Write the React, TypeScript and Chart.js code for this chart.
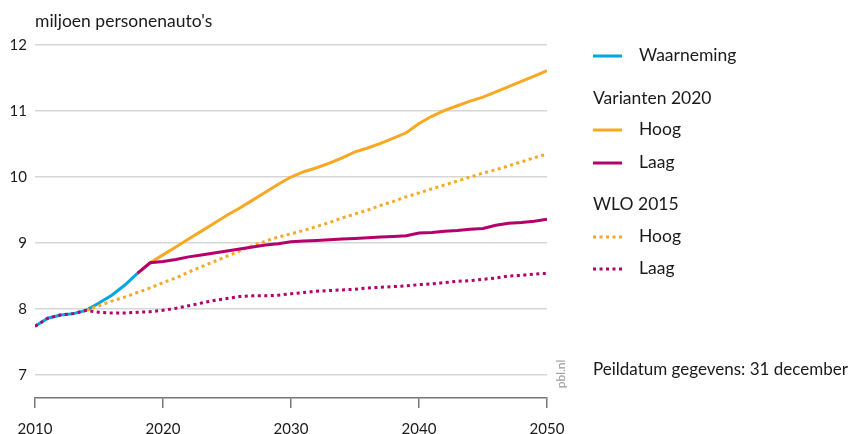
import React, { useEffect, useRef } from 'react';
import { Chart, registerables } from 'chart.js';
Chart.register(...registerables);

const YEARS = [2010, 2011, 2012, 2013, 2014, 2015, 2016, 2017, 2018, 2019, 2020, 2021, 2022, 2023, 2024, 2025, 2026, 2027, 2028, 2029, 2030, 2031, 2032, 2033, 2034, 2035, 2036, 2037, 2038, 2039, 2040, 2041, 2042, 2043, 2044, 2045, 2046, 2047, 2048, 2049, 2050];

const WAARNEMING = [7.74, 7.86, 7.91, 7.93, 7.98, 8.09, 8.21, 8.36, 8.54];
const WAARNEMING_START = 2010;

const VAR_HOOG = [8.54, 8.70, 8.82, 8.94, 9.06, 9.18, 9.30, 9.42, 9.53, 9.65, 9.77, 9.89, 10.00, 10.08, 10.14, 10.21, 10.29, 10.38, 10.44, 10.51, 10.59, 10.67, 10.81, 10.92, 11.01, 11.08, 11.15, 11.21, 11.29, 11.37, 11.45, 11.53, 11.61];
const VAR_LAAG = [8.54, 8.70, 8.72, 8.75, 8.79, 8.82, 8.85, 8.88, 8.91, 8.94, 8.97, 8.99, 9.02, 9.03, 9.04, 9.05, 9.06, 9.07, 9.08, 9.09, 9.10, 9.11, 9.15, 9.16, 9.18, 9.19, 9.21, 9.22, 9.27, 9.30, 9.31, 9.33, 9.36];
const VAR_START = 2018;

const WLO_HOOG = [7.98, 8.05, 8.12, 8.18, 8.25, 8.32, 8.40, 8.47, 8.56, 8.64, 8.72, 8.80, 8.88, 8.96, 9.03, 9.09, 9.14, 9.19, 9.25, 9.31, 9.38, 9.44, 9.50, 9.57, 9.63, 9.70, 9.76, 9.82, 9.88, 9.94, 10.00, 10.06, 10.11, 10.17, 10.23, 10.29, 10.35];
const WLO_HOOG_START = 2014;
const WLO_LAAG = [7.74, 7.86, 7.91, 7.93, 7.98, 7.95, 7.94, 7.94, 7.95, 7.96, 7.98, 8.01, 8.05, 8.09, 8.13, 8.16, 8.19, 8.20, 8.20, 8.21, 8.23, 8.25, 8.27, 8.28, 8.29, 8.30, 8.32, 8.33, 8.34, 8.35, 8.37, 8.38, 8.40, 8.42, 8.43, 8.45, 8.47, 8.50, 8.51, 8.53, 8.54];
const WLO_LAAG_START = 2010;

const Y_TICKS = [7, 8, 9, 10, 11, 12];
const X_TICKS = [2010, 2020, 2030, 2040, 2050];

const TITLE = "miljoen personenauto's";
const LEGEND_WAARNEMING = 'Waarneming';
const LEGEND_GROUP1 = 'Varianten 2020';
const LEGEND_GROUP2 = 'WLO 2015';
const LEGEND_HOOG = 'Hoog';
const LEGEND_LAAG = 'Laag';
const NOTE = 'Peildatum gegevens: 31 december';
const SOURCE = 'pbl.nl';

const BLUE = '#00a7e1';
const ORANGE = '#f8a823';
const MAGENTA = '#b3006c';
const FONT = 'Lato, "Open Sans", sans-serif';
const DOT = [3, 3.5];

function toPoints(values: number[], start: number) {
  return values.map((v, i) => ({ x: YEARS[YEARS.indexOf(start) + i], y: v }));
}

const overlay = {
  id: 'overlay',
  afterDraw(chart: any) {
    const ctx = chart.ctx as CanvasRenderingContext2D;
    ctx.save();
    ctx.fillStyle = '#1a1a1a';
    ctx.textBaseline = 'middle';
    ctx.textAlign = 'left';
    ctx.font = `17.5px ${FONT}`;
    ctx.fillText(TITLE, 35, 21);

    const sample = (y: number, color: string, dotted: boolean) => {
      ctx.beginPath();
      ctx.strokeStyle = color;
      ctx.lineWidth = 3;
      ctx.lineCap = 'butt';
      ctx.setLineDash(dotted ? DOT : []);
      ctx.moveTo(593, y);
      ctx.lineTo(622, y);
      ctx.stroke();
      ctx.setLineDash([]);
    };
    ctx.font = `17.5px ${FONT}`;
    sample(56, BLUE, false);
    ctx.fillText(LEGEND_WAARNEMING, 639, 55);
    ctx.fillText(LEGEND_GROUP1, 593, 98);
    sample(130, ORANGE, false);
    ctx.fillText(LEGEND_HOOG, 639, 129);
    sample(163, MAGENTA, false);
    ctx.fillText(LEGEND_LAAG, 639, 162);
    ctx.fillText(LEGEND_GROUP2, 593, 204);
    sample(237, ORANGE, true);
    ctx.fillText(LEGEND_HOOG, 639, 236);
    sample(269, MAGENTA, true);
    ctx.fillText(LEGEND_LAAG, 639, 268);
    ctx.font = `17px ${FONT}`;
    ctx.fillText(NOTE, 593, 370);

    ctx.translate(561, 374);
    ctx.rotate(-Math.PI / 2);
    ctx.textAlign = 'center';
    ctx.fillStyle = '#9a9a9a';
    ctx.font = `12px ${FONT}`;
    ctx.fillText(SOURCE, 0, 0);
    ctx.restore();
  },
};

export default function App() {
  const ref = useRef<HTMLCanvasElement>(null);
  useEffect(() => {
    const line = (data: any[], color: string, dotted: boolean) => ({
      data,
      borderColor: color,
      backgroundColor: color,
      borderWidth: 3,
      borderDash: dotted ? DOT : [],
      borderCapStyle: 'butt' as const,
      pointRadius: 0,
      tension: 0,
      fill: false,
    });
    const chart = new Chart(ref.current!, {
      type: 'line',
      data: {
        datasets: [
          line(toPoints(VAR_LAAG, VAR_START), MAGENTA, false),
          line(toPoints(WLO_LAAG, WLO_LAAG_START), MAGENTA, true),
          line(toPoints(VAR_HOOG, VAR_START), ORANGE, false),
          line(toPoints(WLO_HOOG, WLO_HOOG_START), ORANGE, true),
          line(toPoints(WAARNEMING, WAARNEMING_START), BLUE, false),
        ],
      },
      options: {
        animation: false,
        responsive: false,
        layout: { padding: { left: 0, top: 45, right: 305, bottom: 0 } },
        plugins: { legend: { display: false }, tooltip: { enabled: false } },
        scales: {
          x: {
            type: 'linear',
            min: 2010,
            max: 2050,
            afterBuildTicks: (s: any) => { s.ticks = X_TICKS.map((v) => ({ value: v })); },
            afterFit: (s: any) => { s.height = 36; },
            ticks: { color: '#1a1a1a', font: { family: FONT, size: 15 }, padding: 12, maxRotation: 0, callback: (v: any) => String(v) },
            grid: { drawOnChartArea: false, drawTicks: true, tickLength: 10, color: '#777', lineWidth: 1.5 },
            border: { display: true, color: '#777', width: 1.5 },
          },
          y: {
            min: 6.652,
            max: 12,
            afterBuildTicks: (s: any) => { s.ticks = Y_TICKS.map((v) => ({ value: v })); },
            afterFit: (s: any) => { s.width = 35; },
            ticks: { color: '#1a1a1a', font: { family: FONT, size: 15 }, padding: 8 },
            grid: { drawTicks: false, color: '#d6d6d6', lineWidth: 1.5 },
            border: { display: false },
          },
        },
      },
      plugins: [overlay],
    });
    return () => chart.destroy();
  }, []);
  return (
    <div style={{ position: 'fixed', left: 0, top: 0, width: 852, height: 434, background: '#fff' }}>
      <canvas ref={ref} width={852} height={434} style={{ width: 852, height: 434, display: 'block' }} />
    </div>
  );
}
